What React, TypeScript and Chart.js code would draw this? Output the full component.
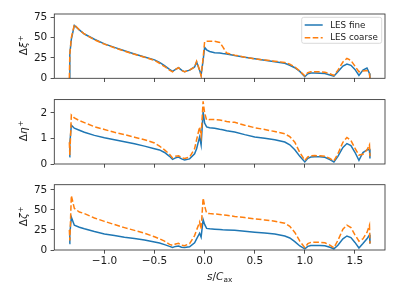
import React, { useEffect, useRef } from 'react';
import { Chart, registerables } from 'chart.js';
Chart.register(...registerables);

// ---- data ----
const S = [-1.35, -1.345, -1.33, -1.3, -1.25, -1.2, -1.1, -1.0, -0.9, -0.8, -0.7, -0.6, -0.5, -0.45, -0.4, -0.35, -0.32, -0.29, -0.26, -0.23, -0.2, -0.15, -0.1, -0.08, -0.05, -0.035, -0.015, 0.0, 0.02, 0.05, 0.1, 0.15, 0.18, 0.22, 0.3, 0.4, 0.5, 0.6, 0.7, 0.8, 0.85, 0.9, 0.95, 1.0, 1.03, 1.06, 1.1, 1.15, 1.2, 1.25, 1.29, 1.33, 1.38, 1.42, 1.46, 1.5, 1.54, 1.58, 1.62, 1.645, 1.65];

const XI_FINE = [0, 30, 48, 65, 59.5, 54.5, 48, 42.3, 38, 33.8, 30, 26.3, 22.7, 19.5, 15.5, 11, 8.5, 11, 13, 10, 8, 10, 14, 20, 10, 4, 22, 38, 35, 33, 31.5, 31, 30.5, 30, 28, 26, 24, 22.2, 20.5, 18.5, 16, 13, 8.5, 2, 5.5, 6.5, 6.5, 6.2, 5.8, 4, 2.5, 8, 15, 17.5, 16, 11, 3.5, 10, 12.5, 6, 0];
const XI_COARSE = [0, 30, 50, 66, 59.5, 54.5, 47.5, 42, 37.5, 33.5, 29.5, 26, 22, 18.5, 14.5, 10, 8, 11, 13, 9.5, 8, 10, 14, 21, 10, 3, 25, 45, 45.5, 45.5, 45.5, 44, 39, 31, 28.5, 26, 24, 22.5, 21, 19.5, 17.5, 14, 9, 3, 7, 8, 8, 8, 7.5, 5.5, 3.5, 10, 20, 24.5, 22, 15, 8, 9, 9.5, 6, 0];

const ETA_FINE = [0.28, 0.8, 1.52, 1.4, 1.32, 1.24, 1.12, 1.03, 0.95, 0.87, 0.79, 0.7, 0.6, 0.55, 0.45, 0.3, 0.18, 0.24, 0.27, 0.2, 0.16, 0.2, 0.4, 0.6, 1.06, 0.75, 2.04, 1.6, 1.45, 1.42, 1.4, 1.36, 1.34, 1.3, 1.25, 1.15, 1.06, 1.01, 0.95, 0.86, 0.75, 0.56, 0.3, 0.08, 0.22, 0.27, 0.28, 0.28, 0.26, 0.17, 0.08, 0.3, 0.65, 0.8, 0.72, 0.46, 0.14, 0.45, 0.55, 0.58, 0.22];
const ETA_COARSE = [0.85, 0.35, 1.92, 1.8, 1.7, 1.62, 1.46, 1.35, 1.24, 1.15, 1.05, 0.95, 0.82, 0.7, 0.55, 0.38, 0.24, 0.3, 0.32, 0.25, 0.22, 0.27, 0.6, 0.95, 1.45, 1.1, 2.45, 2.0, 1.72, 1.74, 1.74, 1.72, 1.7, 1.66, 1.63, 1.52, 1.42, 1.35, 1.27, 1.18, 1.07, 0.85, 0.45, 0.14, 0.28, 0.32, 0.33, 0.32, 0.3, 0.22, 0.12, 0.4, 0.85, 1.04, 0.92, 0.62, 0.35, 0.38, 0.55, 0.75, 0.3];

const ZETA_FINE = [8, 20, 41, 31, 28.5, 26.5, 23, 20, 18, 16, 14.3, 12.4, 10, 8.8, 6.7, 4.5, 3.3, 4.5, 5, 3.5, 3, 4, 9, 14, 21, 16, 38, 32, 27, 26.5, 26, 25.5, 25.2, 25, 24.8, 23.5, 22.3, 21.2, 20, 17.5, 15, 10.5, 5, 1.5, 4.5, 5.5, 5.7, 5.7, 5.4, 3.5, 1.5, 6, 14, 17.5, 15.5, 9.5, 2.5, 8, 14, 19, 8];
const ZETA_COARSE = [25, 12, 68, 52, 47.5, 45.5, 40, 35.8, 31.8, 28, 24.5, 21, 16.5, 14, 11, 7, 5.8, 7.5, 8.3, 6, 5.4, 8, 18, 25, 35, 26, 65, 55, 46, 45.5, 45, 44.5, 44, 43.5, 42, 40.5, 39, 37.5, 36, 33.5, 29.5, 22, 11, 3, 8, 9.5, 9.8, 9.6, 9, 6, 2.8, 12, 26, 31, 28, 19, 11, 14, 22, 31, 8];

const SERIES_LABELS = ['LES fine', 'LES coarse'];
const X_TICKS = [-1.0, -0.5, 0.0, 0.5, 1.0, 1.5];
const XI_TICKS = [0, 25, 50, 75];
const ETA_TICKS = [0, 1, 2];
const ZETA_TICKS = [0, 25, 50, 75];

// ---- styling ----
const BLUE = '#1f77b4';
const ORANGE = '#ff7f0e';
const FONT = '"DejaVu Sans"';
const FS = 10.5;
const LFS = 8.75;
const TXT = '#1a1a1a';

const fmtX = (v: number) => (v < 0 ? '\u2212' : '') + Math.abs(v).toFixed(1);

type Panel = {
  top: number; height: number; padTop: number; axisH: number;
  ymax: number; yTicks: number[]; fine: number[]; coarse: number[];
  greek: string; showX: boolean; legend: boolean;
};

const PANELS: Panel[] = [
  { top: 0, height: 90, padTop: 14, axisH: 11.7, ymax: 79.1, yTicks: XI_TICKS, fine: XI_FINE, coarse: XI_COARSE, greek: 'ξ', showX: false, legend: true },
  { top: 90, height: 85, padTop: 9.3, axisH: 11, ymax: 2.52, yTicks: ETA_TICKS, fine: ETA_FINE, coarse: ETA_COARSE, greek: 'η', showX: false, legend: false },
  { top: 175, height: 124, padTop: 9.7, axisH: 49, ymax: 81.6, yTicks: ZETA_TICKS, fine: ZETA_FINE, coarse: ZETA_COARSE, greek: 'ζ', showX: true, legend: false },
];

function PanelChart({ p }: { p: Panel }) {
  const ref = useRef<HTMLCanvasElement | null>(null);
  useEffect(() => {
    if (!ref.current) return;
    const framePlugin = {
      id: 'frame',
      afterDraw(chart: any) {
        const { ctx, chartArea: a } = chart;
        ctx.save();
        ctx.strokeStyle = '#333';
        ctx.lineWidth = 0.85;
        ctx.strokeRect(a.left, a.top, a.right - a.left, a.bottom - a.top);
        // y label
        const cy = (a.top + a.bottom) / 2 - 1;
        const f1 = `${FS}px ${FONT}`;
        const f2 = `italic ${FS}px ${FONT}`;
        const f3 = `7.3px ${FONT}`;
        ctx.translate(27, cy);
        ctx.rotate(-Math.PI / 2);
        ctx.fillStyle = TXT;
        ctx.textBaseline = 'alphabetic';
        ctx.textAlign = 'left';
        ctx.font = f1; const w1 = ctx.measureText('Δ').width;
        ctx.font = f2; const w2 = ctx.measureText(p.greek).width;
        ctx.font = f3; const w3 = ctx.measureText('+').width;
        const total = w1 + w2 + w3 + 0.8;
        let x = -total / 2;
        ctx.font = f1; ctx.fillText('Δ', x, 0); x += w1;
        ctx.font = f2; ctx.fillText(p.greek, x, 0); x += w2 + 0.8;
        ctx.font = f3; ctx.fillText('+', x, -3.8);
        ctx.restore();

        if (p.showX) {
          ctx.save();
          ctx.fillStyle = TXT;
          ctx.textBaseline = 'alphabetic';
          ctx.textAlign = 'left';
          const parts: [string, string, number][] = [
            ['s', `italic ${FS}px ${FONT}`, 0],
            ['/', `${FS}px ${FONT}`, 0],
            ['C', `italic ${FS}px ${FONT}`, 0],
            ['ax', `7.3px ${FONT}`, 2.2],
          ];
          let tw = 0;
          const ws = parts.map(([t, f]) => { ctx.font = f; const w = ctx.measureText(t).width; tw += w; return w; });
          let xx = (a.left + a.right) / 2 - tw / 2;
          const by = 280 - p.top;
          parts.forEach(([t, f, dy], i) => { ctx.font = f; ctx.fillText(t, xx, by + dy); xx += ws[i]; });
          ctx.restore();
        }

        if (p.legend) {
          const ds = chart.data.datasets;
          const bx = a.right - 83.3, byy = a.top + 3.3, bw = 80, bh = 26;
          ctx.save();
          ctx.beginPath();
          const r = 2;
          ctx.moveTo(bx + r, byy);
          ctx.lineTo(bx + bw - r, byy); ctx.arcTo(bx + bw, byy, bx + bw, byy + r, r);
          ctx.lineTo(bx + bw, byy + bh - r); ctx.arcTo(bx + bw, byy + bh, bx + bw - r, byy + bh, r);
          ctx.lineTo(bx + r, byy + bh); ctx.arcTo(bx, byy + bh, bx, byy + bh - r, r);
          ctx.lineTo(bx, byy + r); ctx.arcTo(bx, byy, bx + r, byy, r);
          ctx.closePath();
          ctx.fillStyle = 'rgba(255,255,255,0.8)';
          ctx.fill();
          ctx.strokeStyle = '#d0d0d0';
          ctx.lineWidth = 0.8;
          ctx.stroke();
          ds.forEach((d: any, i: number) => {
            const ry = byy + 7.7 + i * 12.7;
            ctx.beginPath();
            ctx.strokeStyle = d.borderColor;
            ctx.lineWidth = d.borderWidth;
            ctx.setLineDash(d.borderDash || []);
            ctx.moveTo(bx + 3, ry);
            ctx.lineTo(bx + 21, ry);
            ctx.stroke();
            ctx.setLineDash([]);
            ctx.fillStyle = TXT;
            ctx.font = `${LFS}px ${FONT}`;
            ctx.textBaseline = 'middle';
            ctx.fillText(d.label, bx + 28.5, ry + 0.5);
          });
          ctx.restore();
        }
      },
    };

    const chart = new Chart(ref.current, {
      type: 'line',
      data: {
        datasets: [
          {
            label: SERIES_LABELS[0],
            data: S.map((s, i) => ({ x: s, y: p.fine[i] })),
            borderColor: BLUE, borderWidth: 1.5, pointRadius: 0, tension: 0, fill: false, order: 1,
          },
          {
            label: SERIES_LABELS[1],
            data: S.map((s, i) => ({ x: s, y: p.coarse[i] })),
            borderColor: ORANGE, borderWidth: 1.5, borderDash: [5.6, 2.4], pointRadius: 0, tension: 0, fill: false, order: 0,
          },
        ],
      },
      options: {
        animation: false,
        responsive: false,
        devicePixelRatio: 1,
        events: [],
        layout: { padding: { top: p.padTop, right: 14, left: 0, bottom: 0 } },
        plugins: { legend: { display: false }, tooltip: { enabled: false } },
        scales: {
          x: {
            type: 'linear', min: -1.5, max: 1.8,
            afterBuildTicks: (s: any) => { s.ticks = X_TICKS.map((v) => ({ value: v })); },
            afterFit: (s: any) => { s.height = p.axisH; },
            grid: { drawOnChartArea: false, drawTicks: true, tickLength: 3.7, tickWidth: 0.85, tickColor: '#333' },
            border: { display: false },
            ticks: { display: p.showX, padding: 1.5, color: TXT, font: { family: 'DejaVu Sans', size: FS }, callback: (v: any) => fmtX(Number(v)), maxRotation: 0, autoSkip: false },
          },
          y: {
            type: 'linear', min: 0, max: p.ymax,
            afterBuildTicks: (s: any) => { s.ticks = p.yTicks.map((v) => ({ value: v })); },
            afterFit: (s: any) => { s.width = 54.3; },
            grid: { drawOnChartArea: false, drawTicks: true, tickLength: 3.7, tickWidth: 0.85, tickColor: '#333' },
            border: { display: false },
            ticks: { padding: 3.3, color: TXT, font: { family: 'DejaVu Sans', size: FS }, callback: (v: any) => String(v), autoSkip: false },
          },
        },
      },
      plugins: [framePlugin],
    } as any);
    return () => chart.destroy();
  }, [p]);
  return (
    <canvas
      ref={ref}
      width={399}
      height={p.height}
      style={{ position: 'absolute', left: 0, top: p.top, width: 399, height: p.height }}
    />
  );
}

export default function App() {
  return (
    <div style={{ position: 'fixed', left: 0, top: 0, width: 399, height: 299, background: '#fff', overflow: 'hidden' }}>
      {PANELS.map((p, i) => <PanelChart key={i} p={p} />)}
    </div>
  );
}
